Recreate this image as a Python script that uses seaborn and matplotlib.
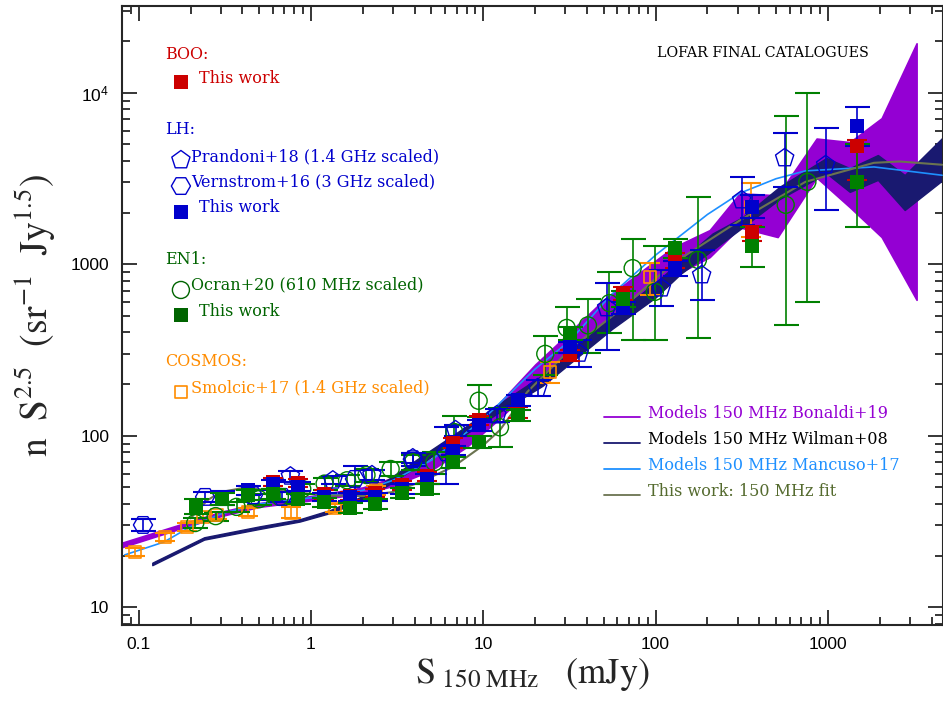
import numpy as np
import pandas as pd
import matplotlib
matplotlib.use("Agg")
import matplotlib.pyplot as plt
import seaborn as sns

# ---------------- data ----------------
# Model bands (x in mJy, lower/upper of n S^2.5)
bon_x  = [0.08, 0.15, 0.3, 0.5, 1, 2, 3, 5, 8, 12, 20, 30, 50, 70, 100, 126, 206, 308, 511, 860, 1340, 2050, 3270]
bon_lo = [22.4, 27.4, 34, 38.5, 42, 46, 51, 63, 86, 122, 198, 280, 420, 520, 680, 850, 1100, 1640, 1440, 3200, 2150, 1440, 620]
bon_hi = [23.8, 29.0, 36, 40.5, 44.5, 50, 57, 73, 104, 150, 260, 380, 620, 800, 1050, 1250, 1580, 2590, 2520, 5400, 5150, 7100, 19400]

wil_x  = [0.12, 0.24, 0.5, 0.86, 1.3, 2.1, 2.75, 4.3, 6.7, 12.5, 22, 56, 100, 140, 214, 320, 525, 980, 1340, 1950, 2790, 4650]
wil_lo = [17.6, 24.8, 28.6, 31.6, 35.5, 43, 51, 68, 92, 138, 195, 420, 640, 880, 1210, 1640, 2400, 3390, 2640, 3100, 2070, 3100]
wil_hi = [18.2, 25.6, 29.6, 32.6, 37.0, 45.5, 55, 75, 101, 155, 225, 500, 780, 1050, 1510, 1880, 2830, 4160, 3630, 4330, 3310, 5500]

man_x = [0.083, 0.14, 0.2, 0.3, 0.5, 1, 2, 3, 5, 10, 20, 32, 55, 100, 200, 310, 500, 740, 1850, 4600]
man_y = [20.2, 24, 29.5, 35, 40, 43.5, 48, 55, 72, 125, 245, 360, 660, 1130, 1950, 2600, 3150, 3500, 3690, 3300]

fit_x = [0.2, 0.25, 0.3, 0.4, 0.62, 1.2, 2, 3, 4.3, 6.7, 10, 12.5, 18, 32, 62, 126, 308, 740, 1850, 2600, 4600]
fit_y = [33, 42, 47, 49.5, 48, 45, 44.5, 47, 53.7, 66, 88, 108, 180, 320, 540, 1010, 1800, 3020, 3900, 3970, 3800]

# BOO - This work
boo_x  = [0.43, 0.6, 0.84, 1.19, 1.68, 2.35, 3.37, 4.7, 6.67, 9.4, 15.8, 31.8, 64.6, 129, 361, 1466]
boo_y  = [48, 54, 53, 45.5, 44.5, 46.5, 51.5, 58, 91, 123, 137, 295, 680, 1060, 1520, 4880]
boo_el = [3, 3, 3, 2.5, 2.5, 2.5, 3, 3.5, 6, 8, 10, 22, 60, 110, 150, 1800]
boo_eh = [3, 3, 3, 2.5, 2.5, 2.5, 3, 3.5, 6, 8, 10, 22, 60, 110, 150, 450]

# LH - This work
lh_x  = [0.305, 0.43, 0.6, 0.84, 1.19, 1.68, 2.35, 3.37, 4.7, 6.67, 9.4, 15.8, 31.8, 64.6, 129, 361, 1466]
lh_y  = [43.4, 48, 52, 50.5, 44, 44, 44, 49, 56, 82, 115, 161, 329, 556, 948, 2150, 6400]
lh_el = [4, 3, 3, 3, 2.5, 2.5, 2.5, 3, 3.5, 5, 8, 12, 25, 45, 90, 290, 1500]
lh_eh = [4, 3, 3, 3, 2.5, 2.5, 2.5, 3, 3.5, 5, 8, 12, 25, 45, 90, 380, 1860]

# EN1 - This work
en_x  = [0.215, 0.305, 0.43, 0.6, 0.84, 1.19, 1.68, 2.35, 3.37, 4.7, 6.67, 9.4, 15.8, 31.8, 64.6, 129, 361, 1466]
en_y  = [38.9, 43, 45, 46, 43, 41, 38, 40, 46.5, 49, 70, 92, 132, 398, 630, 1240, 1277, 3020]
en_el = [4, 3.5, 3, 3, 3, 2.5, 2.5, 2.5, 3, 3.5, 5, 7, 10, 35, 70, 160, 320, 1370]
en_eh = [4, 3.5, 3, 3, 3, 2.5, 2.5, 2.5, 3, 3.5, 5, 7, 10, 35, 70, 160, 370, 1970]

# LH - Prandoni+18 (1.4 GHz scaled)
pra_x  = [0.76, 1.34, 2.26, 3.9, 6.9, 12, 20.7, 36, 52, 108, 185, 316, 561, 970]
pra_y  = [58, 55, 59, 74, 108, 132, 190, 302, 556, 725, 865, 2365, 4160, 3790]
pra_el = [4, 3, 4, 5, 8, 11, 20, 52, 241, 155, 250, 665, 1340, 1720]
pra_eh = [4, 3, 4, 5, 8, 11, 20, 58, 220, 200, 345, 865, 1660, 2420]

# LH - Vernstrom+16 (3 GHz scaled)
ver_x  = [0.106, 0.243, 0.46, 0.68, 1.8, 3.9, 6.1]
ver_y  = [30.2, 44, 45, 44, 56, 73, 80]
ver_el = [2.5, 3, 3, 3, 10, 6, 28]
ver_eh = [2.5, 3, 3, 3, 11, 6, 32]

# EN1 - Ocran+20 (610 MHz scaled)
ocr_x  = [0.213, 0.28, 0.37, 0.5, 0.66, 0.89, 1.2, 1.62, 2.1, 2.9, 3.9, 5.2, 6.8, 9.4, 12.5, 22.9, 30.5, 40.5, 54, 73.6, 99, 176, 569, 760]
ocr_y  = [31, 34, 38.5, 42.7, 44, 49, 52.6, 55, 59, 64, 70, 70, 105, 160, 112, 300, 425, 440, 593, 948, 690, 1060, 2220, 3020]
ocr_el = [2, 2, 2.5, 3, 3, 3.5, 4, 4, 5, 6, 7, 10, 20, 32, 26, 75, 123, 138, 197, 587, 329, 690, 1778, 2416]
ocr_eh = [2, 2, 2.5, 3, 3, 3.5, 4, 4, 5, 6, 7, 10, 26, 37, 34, 80, 141, 185, 307, 452, 580, 1390, 5080, 6980]

# COSMOS - Smolcic+17 (1.4 GHz scaled)
smo_x  = [0.095, 0.142, 0.19, 0.236, 0.284, 0.43, 0.77, 1.38, 2.4, 24.3, 92.7, 357]
smo_y  = [21, 25.7, 29.3, 33.6, 34.5, 36, 35.7, 38, 48, 235, 842, 2150]
smo_el = [1.2, 1.5, 1.6, 1.6, 1.6, 1.8, 2.5, 2, 3, 32, 181, 710]
smo_eh = [1.2, 1.5, 1.6, 1.6, 1.6, 1.8, 2.5, 2, 3, 33, 168, 810]

# ---------------- style ----------------
sns.set_style("ticks")
plt.rcParams['font.family'] = ['Liberation Sans', 'DejaVu Sans']
plt.rcParams['mathtext.fontset'] = 'stix'

RED = '#cc0000'
BLUE = '#0000cc'
GREEN = '#008000'
GREEN_TXT = '#006400'
ORANGE = '#ff8c00'
PURPLE = '#9400d3'
NAVY = '#191970'
LBLUE = '#1e90ff'
OLIVE = '#6b7350'
OLIVE_TXT = '#556b2f'

fig = plt.figure(figsize=(9.43, 7.06), dpi=100)
ax = fig.add_axes([0.129, 0.1152, 0.8705, 0.8763])
ax.set_xscale('log')
ax.set_yscale('log')

# model bands
ax.fill_between(bon_x, bon_lo, bon_hi, color=PURPLE, lw=1.2, edgecolor=PURPLE, zorder=1)
ax.fill_between(wil_x, wil_lo, wil_hi, color=NAVY, lw=1.0, edgecolor=NAVY, zorder=2)

sns.lineplot(x=man_x, y=man_y, ax=ax, color=LBLUE, lw=1.2, estimator=None, sort=False, zorder=3)
sns.lineplot(x=fit_x, y=fit_y, ax=ax, color=OLIVE, lw=1.5, estimator=None, sort=False, zorder=3)


def ebar(x, y, el, eh, color, capcolor, z, cs=9):
    _, caps, bars = ax.errorbar(x, y, yerr=[el, eh], fmt='none', ecolor=color,
                                elinewidth=1.2, capsize=cs, capthick=1.5, zorder=z)
    for c in caps:
        c.set_color(capcolor)


# open symbols
ebar(smo_x, smo_y, smo_el, smo_eh, ORANGE, ORANGE, 4, 7)
ebar(ocr_x, ocr_y, ocr_el, ocr_eh, GREEN, '#63b063', 4)
ebar(pra_x, pra_y, pra_el, pra_eh, BLUE, '#6a6ae0', 4)
ebar(ver_x, ver_y, ver_el, ver_eh, BLUE, '#6a6ae0', 4)

sns.scatterplot(x=smo_x, y=smo_y, ax=ax, marker='s', s=75, facecolor='none',
                edgecolor=ORANGE, linewidth=1.2, zorder=5)
sns.scatterplot(x=ocr_x, y=ocr_y, ax=ax, marker='o', s=150, facecolor='none',
                edgecolor=GREEN, linewidth=1.0, zorder=5)
sns.scatterplot(x=pra_x, y=pra_y, ax=ax, marker='p', s=190, facecolor='none',
                edgecolor=BLUE, linewidth=1.0, zorder=5)
sns.scatterplot(x=ver_x, y=ver_y, ax=ax, marker='H', s=190, facecolor='none',
                edgecolor=BLUE, linewidth=1.0, zorder=5)

# this work
ebar(boo_x, boo_y, boo_el, boo_eh, RED, RED, 6, 7)
ebar(lh_x, lh_y, lh_el, lh_eh, BLUE, '#6a6ae0', 6)
ebar(en_x, en_y, en_el, en_eh, GREEN, '#63b063', 6)
sns.scatterplot(x=boo_x, y=boo_y, ax=ax, marker='s', s=95, color=RED, linewidth=0, zorder=7)
sns.scatterplot(x=lh_x, y=lh_y, ax=ax, marker='s', s=95, color=BLUE, linewidth=0, zorder=7)
sns.scatterplot(x=en_x, y=en_y, ax=ax, marker='s', s=95, color=GREEN, linewidth=0, zorder=7)

ax.set_xlim(0.0797, 4625)
ax.set_ylim(7.92, 32000)

ax.set_xticks([0.1, 1, 10, 100, 1000])
ax.set_xticklabels(['0.1', '1', '10', '100', '1000'])
ax.set_yticks([10, 100, 1000, 10000])
ax.set_yticklabels(['10', '100', '1000', r'$\mathregular{10^4}$'])
ax.tick_params(which='both', direction='in', top=True, right=True, width=1.1, colors='black',
               labelsize=12.5, pad=9)
ax.tick_params(which='major', length=11)
ax.tick_params(which='minor', length=6)
for sp in ax.spines.values():
    sp.set_linewidth(1.5)

ax.set_xlabel(r'$\mathrm{S}_{\ \mathrm{150\ MHz}}\ \ \ \mathrm{(mJy)}$', fontsize=26, labelpad=3)
ax.set_ylabel(r'$\mathrm{n\ \ S^{2.5}\ \ (sr^{-1}\ \ Jy^{1.5})}$', fontsize=27, labelpad=10)

# ------------- in-plot legend -------------
LF = ['DejaVu Serif']
tr = ax.transAxes
fs = 11.5


def lab(x, y, s, c, size=fs):
    ax.text(x, y, s, transform=tr, color=c, fontsize=size, family=LF, va='center', ha='left')


lab(0.0527, 0.921, 'BOO:', RED)
ax.scatter([0.0722], [0.877], transform=tr, marker='s', s=95, color=RED, lw=0)
lab(0.0941, 0.8836, 'This work', RED)

lab(0.0527, 0.800, 'LH:', BLUE)
ax.scatter([0.0722], [0.751], transform=tr, marker='p', s=190, facecolor='none', edgecolor=BLUE, lw=1.0)
lab(0.0844, 0.7555, 'Prandoni+18 (1.4 GHz scaled)', BLUE)
ax.scatter([0.0722], [0.709], transform=tr, marker='H', s=190, facecolor='none', edgecolor=BLUE, lw=1.0)
lab(0.0844, 0.7155, 'Vernstrom+16 (3 GHz scaled)', BLUE)
ax.scatter([0.0722], [0.667], transform=tr, marker='s', s=95, color=BLUE, lw=0)
lab(0.0941, 0.6735, 'This work', BLUE)

lab(0.0527, 0.591, 'EN1:', GREEN_TXT)
ax.scatter([0.0722], [0.541], transform=tr, marker='o', s=150, facecolor='none', edgecolor=GREEN_TXT, lw=1.0)
lab(0.0844, 0.549, 'Ocran+20 (610 MHz scaled)', GREEN_TXT)
ax.scatter([0.0722], [0.5006], transform=tr, marker='s', s=95, color=GREEN_TXT, lw=0)
lab(0.0941, 0.507, 'This work', GREEN_TXT)

lab(0.0527, 0.4246, 'COSMOS:', ORANGE)
ax.scatter([0.0722], [0.376], transform=tr, marker='s', s=75, facecolor='none', edgecolor=ORANGE, lw=1.2)
lab(0.0844, 0.3826, 'Smolcic+17 (1.4 GHz scaled)', ORANGE)

lab(0.652, 0.924, 'LOFAR FINAL CATALOGUES', 'black', size=10.3)

for yy, txt, lc, tc in [(0.342, 'Models 150 MHz Bonaldi+19', PURPLE, PURPLE),
                        (0.300, 'Models 150 MHz Wilman+08', NAVY, 'black'),
                        (0.258, 'Models 150 MHz Mancuso+17', LBLUE, LBLUE),
                        (0.216, 'This work: 150 MHz fit', OLIVE, OLIVE_TXT)]:
    ax.plot([0.587, 0.631], [yy - 0.006, yy - 0.006], transform=tr, color=lc, lw=1.3)
    lab(0.641, yy, txt, tc)

fig.savefig('out.png', dpi=100)
